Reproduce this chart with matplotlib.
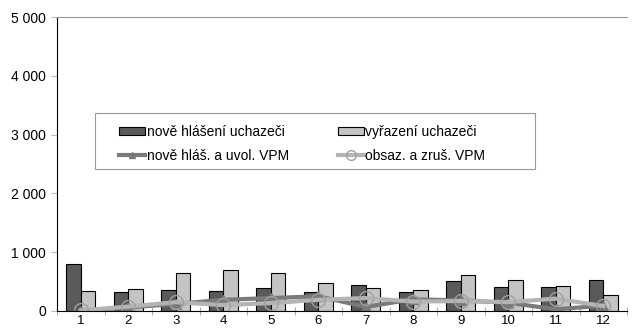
import matplotlib.pyplot as plt
from matplotlib.patches import Rectangle
import numpy as np

plt.rcParams['font.family'] = ['Liberation Sans', 'DejaVu Sans']

months = ['1', '2', '3', '4', '5', '6', '7', '8', '9', '10', '11', '12']
nove_hlaseni = [800, 320, 350, 335, 385, 320, 435, 320, 505, 410, 410, 525]
vyrazeni = [345, 375, 645, 700, 640, 480, 385, 355, 605, 520, 425, 270]
nove_vpm = [0, 60, 120, 190, 220, 250, 70, 200, 180, 140, 30, 90]
obsaz_vpm = [10, 75, 150, 100, 135, 190, 220, 160, 170, 150, 210, 85]

W, H = 637, 329
fig = plt.figure(figsize=(W/100, H/100), dpi=100)
ax = fig.add_axes([57/W, 1 - 311/H, 570/W, 294/H])

x = np.arange(len(months))
w = 0.305
b1 = ax.bar(x - w/2, nove_hlaseni, w, color='#5a5a5a', edgecolor='black', linewidth=0.8,
            label='nově hlášení uchazeči')
b2 = ax.bar(x + w/2, vyrazeni, w, color='#c4c4c4', edgecolor='black', linewidth=0.8,
            label='vyřazení uchazeči')
l1, = ax.plot(x, nove_vpm, color='#7a7a7a', lw=3, marker='^', ms=7,
              markerfacecolor='#7a7a7a', markeredgecolor='#7a7a7a',
              label='nově hláš. a uvol. VPM')
l2, = ax.plot(x, obsaz_vpm, color='#b4b4b4', lw=3, marker='o', ms=10,
              markerfacecolor='none', markeredgecolor='#a0a0a0', markeredgewidth=1,
              label='obsaz. a zruš. VPM')

ax.set_xlim(-0.5, len(months) - 0.5)
ax.set_ylim(0, 5000)
ax.set_yticks(range(0, 5001, 1000))
ax.set_yticklabels([f'{v:,}'.replace(',', ' ') for v in range(0, 5001, 1000)])
ax.set_xticks(x)
ax.set_xticklabels(months)
ax.set_xticks(np.arange(-0.5, len(months), 1), minor=True)
ax.tick_params(axis='x', which='major', length=0, labelsize=9.5, pad=3)
ax.tick_params(axis='x', which='minor', length=6, color='#999999', direction='inout')
ax.tick_params(axis='y', length=4, color='#bbbbbb', labelsize=10, pad=4)

ax.spines['right'].set_visible(False)
ax.spines['top'].set_color('#999999')
ax.spines['left'].set_color('black')
ax.spines['bottom'].set_color('black')

# legend frame drawn separately so it can be wider than the entries
fig.patches.append(Rectangle((95/W, 1 - 169/H), 440/W, 56/H, transform=fig.transFigure,
                             facecolor='white', edgecolor='#999999', linewidth=0.8, zorder=5))
leg = fig.legend([b1, l1, b2, l2], [h.get_label() for h in (b1, l1, b2, l2)],
                 loc='upper left', bbox_to_anchor=(119/W, 1 - 125/H),
                 bbox_transform=fig.transFigure, ncol=2, fontsize=10, frameon=False,
                 handlelength=1.9, handleheight=0.5, handletextpad=0.1,
                 columnspacing=3.5, borderpad=0, borderaxespad=0, labelspacing=0.7,
                 markerscale=0.7)
leg.set_zorder(6)

fig.savefig('out.png', dpi=100)
